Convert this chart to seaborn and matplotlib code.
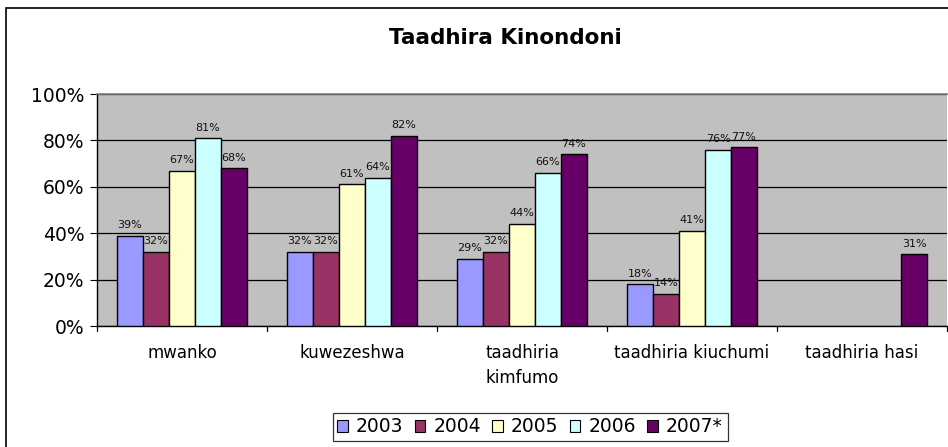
import numpy as np
import pandas as pd
import matplotlib
matplotlib.use('Agg')
import matplotlib.pyplot as plt
import seaborn as sns
from matplotlib.patches import Rectangle, Patch

categories = ['mwanko', 'kuwezeshwa', 'taadhiria\nkimfumo', 'taadhiria kiuchumi', 'taadhiria hasi']
years = ['2003', '2004', '2005', '2006', '2007*']
v2003 = [39, 32, 29, 18, np.nan]
v2004 = [32, 32, 32, 14, np.nan]
v2005 = [67, 61, 44, 41, np.nan]
v2006 = [81, 64, 66, 76, np.nan]
v2007 = [68, 82, 74, 77, 31]
colors = ['#9999FF', '#993366', '#FFFFCC', '#CCFFFF', '#660066']

series = [v2003, v2004, v2005, v2006, v2007]
rows = []
for yr, vals in zip(years, series):
    for cat, v in zip(categories, vals):
        rows.append({'cat': cat, 'year': yr, 'val': v})
df = pd.DataFrame(rows)

sns.set_style('white')
plt.rcParams['font.family'] = ['DejaVu Sans']
plt.rcParams['text.color'] = 'black'

fig = plt.figure(figsize=(9.48, 4.47), dpi=100)
ax = fig.add_axes([97 / 948, 1 - 326 / 447, 850 / 948, 232 / 447])
ax.set_facecolor('#C0C0C0')

sns.barplot(data=df, x='cat', y='val', hue='year', order=categories, hue_order=years,
            palette=colors, width=0.765, edgecolor='black', linewidth=1.0,
            saturation=1, errorbar=None, legend=False, ax=ax, zorder=3)

# value labels above bars
for cont in ax.containers:
    for bar in cont:
        h = bar.get_height()
        if np.isnan(h) or h == 0:
            continue
        ax.annotate(f'{int(round(h))}%', (bar.get_x() + bar.get_width() / 2, h),
                    xytext=(0, 4), textcoords='offset points',
                    ha='center', va='bottom', fontsize=8, color='#111111', zorder=5)

ax.set_ylim(0, 100)
ax.set_xlim(-0.5, 4.5)
ax.set_yticks([0, 20, 40, 60, 80, 100])
ax.set_yticklabels(['0%', '20%', '40%', '60%', '80%', '100%'], fontsize=13.5)
ax.yaxis.grid(True, color='black', linewidth=0.9, zorder=1)
ax.set_axisbelow(True)
ax.set_xticks(range(len(categories)))
ax.set_xticklabels(categories, fontsize=12, va='top', linespacing=1.5)
ax.tick_params(axis='x', length=0, pad=13, colors='black')
ax.tick_params(axis='y', length=5, direction='out', left=True, color='black', pad=4,
               labelcolor='black')
# category boundary ticks
for b in np.arange(-0.5, 5.0, 1.0):
    ax.plot([b, b], [0, -2.2], color='black', lw=0.9, clip_on=False, zorder=4)
ax.set_xlabel('')
ax.set_ylabel('')
for s in ['left', 'bottom']:
    ax.spines[s].set_color('black')
    ax.spines[s].set_linewidth(1.0)
ax.spines['top'].set_color('#808080')
ax.spines['top'].set_linewidth(1.2)
ax.spines['right'].set_visible(False)

fig.text(505 / 948, 1 - 44 / 447, 'Taadhira Kinondoni', ha='center', va='baseline',
         fontsize=15.5, fontweight='bold', color='black')

handles = [Patch(facecolor=c, edgecolor='black', linewidth=0.8) for c in colors]
leg = fig.legend(handles, years, loc='center', bbox_to_anchor=(530 / 948, 1 - 427 / 447),
                 ncol=5, frameon=True, fontsize=13.5, handlelength=0.55, handleheight=0.55,
                 handletextpad=0.45, columnspacing=0.6, borderpad=0.25, fancybox=False)
leg.get_frame().set_edgecolor('black')
leg.get_frame().set_linewidth(0.9)

# outer chart border
fig.patches.append(Rectangle((6 / 948, -0.1), 1.2, 1 - 8 / 447 + 0.1, transform=fig.transFigure,
                             fill=False, edgecolor='black', linewidth=1.2))

fig.savefig('out.png', dpi=100)
